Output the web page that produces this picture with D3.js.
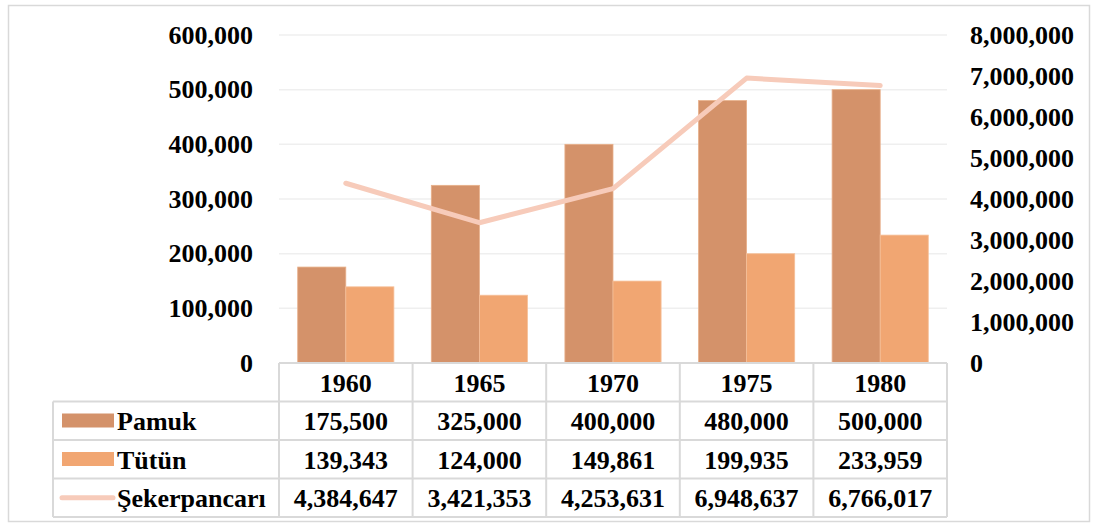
<!DOCTYPE html>
<html><head><meta charset="utf-8">
<script src="https://cdn.jsdelivr.net/npm/d3@7"></script>
<style>body{margin:0;background:#fff}svg{display:block}</style>
</head><body><svg id="c" width="1096" height="527"></svg>
<script>
const categories = ["1960","1965","1970","1975","1980"];
const pamuk = [175500,325000,400000,480000,500000];
const tutun = [139343,124000,149861,199935,233959];
const seker = [4384647,3421353,4253631,6948637,6766017];
const seriesNames = ["Pamuk","Tütün","Şekerpancarı"];
const leftTicks = [0,100000,200000,300000,400000,500000,600000];
const rightTicks = [0,1000000,2000000,3000000,4000000,5000000,6000000,7000000,8000000];
const colors = {pamuk:"#D4926A", tutun:"#F1A672", seker:"#F7CBBA"};

const svg = d3.select("#c");
const font = "'Liberation Serif','Times New Roman',serif";
const FS = 26;
const fmt = d3.format(",");
const L = 279, R = 947, T = 35, B = 363;
const tableLeft = 53, rowH = 38.5;

// outer border
svg.append("rect").attr("x",8.5).attr("y",5.5).attr("width",1081).attr("height",516)
  .attr("fill","#fff").attr("stroke","#D9D9D9").attr("stroke-width",1.5);

const x = d3.scaleBand().domain(categories).range([L,R]).paddingInner(0).paddingOuter(0);
const yL = d3.scaleLinear().domain([0,600000]).range([B,T]);
const yR = d3.scaleLinear().domain([0,8000000]).range([B,T]);

// gridlines
svg.append("g").selectAll("line").data(leftTicks.slice(1)).join("line")
  .attr("x1",L).attr("x2",R).attr("y1",d=>yL(d)).attr("y2",d=>yL(d))
  .attr("stroke","#EFEFEF").attr("stroke-width",1.5);

// axes labels
const axL = d3.axisLeft(yL).tickValues(leftTicks).tickFormat(fmt).tickSize(0).tickPadding(0);
const gL = svg.append("g").attr("transform",`translate(253,0)`).call(axL);
gL.select(".domain").remove();
gL.selectAll("text").attr("font-family",font).attr("font-weight","bold").attr("font-size",FS).attr("fill","#000");
const axR = d3.axisRight(yR).tickValues(rightTicks).tickFormat(fmt).tickSize(0).tickPadding(0);
const gR = svg.append("g").attr("transform",`translate(970,0)`).call(axR);
gR.select(".domain").remove();
gR.selectAll("text").attr("font-family",font).attr("font-weight","bold").attr("font-size",FS).attr("fill","#000");

// bars
const bw = x.bandwidth()*0.36;
const off = (x.bandwidth()-2*bw)/2;
svg.append("g").selectAll("rect").data(pamuk).join("rect")
  .attr("x",(d,i)=>x(categories[i])+off).attr("width",bw)
  .attr("y",d=>yL(d)).attr("height",d=>B-yL(d))
  .attr("fill",colors.pamuk).attr("stroke","#E8B08A").attr("stroke-width",0.8);
svg.append("g").selectAll("rect").data(tutun).join("rect")
  .attr("x",(d,i)=>x(categories[i])+off+bw).attr("width",bw)
  .attr("y",d=>yL(d)).attr("height",d=>B-yL(d))
  .attr("fill",colors.tutun).attr("stroke","#F6C09A").attr("stroke-width",0.8);

// line
const line = d3.line().x((d,i)=>x(categories[i])+x.bandwidth()/2).y(d=>yR(d));
svg.append("path").datum(seker).attr("d",line).attr("fill","none")
  .attr("stroke",colors.seker).attr("stroke-width",5).attr("stroke-linecap","round").attr("stroke-linejoin","round");

// data table
const tg = svg.append("g");
const bc = "#D9D9D9";
const rowsTop = [B, B+rowH, B+2*rowH, B+3*rowH, B+4*rowH];
tg.append("line").attr("x1",L).attr("x2",R).attr("y1",B).attr("y2",B).attr("stroke",bc).attr("stroke-width",2);
[1,2,3,4].forEach(k=>{
  tg.append("line").attr("x1",tableLeft).attr("x2",R).attr("y1",rowsTop[k]).attr("y2",rowsTop[k]).attr("stroke",bc).attr("stroke-width",2);
});
tg.append("line").attr("x1",tableLeft).attr("x2",tableLeft).attr("y1",rowsTop[1]).attr("y2",rowsTop[4]).attr("stroke",bc).attr("stroke-width",2);
categories.concat(["end"]).forEach((c,i)=>{
  const xx = i<categories.length ? x(c) : R;
  tg.append("line").attr("x1",xx).attr("x2",xx).attr("y1",B).attr("y2",rowsTop[4]).attr("stroke",bc).attr("stroke-width",2);
});
const txt = (sel)=>sel.attr("font-family",font).attr("font-weight","bold").attr("font-size",FS).attr("fill","#000").attr("dominant-baseline","central");
tg.selectAll("text.h").data(categories).join("text").attr("class","h")
  .attr("x",d=>x(d)+x.bandwidth()/2).attr("y",B+rowH/2+1).attr("text-anchor","middle").text(d=>d).call(txt);
[pamuk,tutun,seker].forEach((arr,r)=>{
  const cy = rowsTop[r+1]+rowH/2+1;
  tg.append("g").selectAll("text").data(arr).join("text")
    .attr("x",(d,i)=>x(categories[i])+x.bandwidth()/2).attr("y",cy).attr("text-anchor","middle")
    .text(d=>fmt(d)).call(txt);
  tg.append("text").attr("x",117).attr("y",cy).attr("text-anchor","start").text(seriesNames[r]).call(txt);
});
tg.append("rect").attr("x",62).attr("y",rowsTop[1]+12).attr("width",52).attr("height",14).attr("fill",colors.pamuk);
tg.append("rect").attr("x",62).attr("y",rowsTop[2]+12).attr("width",52).attr("height",14).attr("fill",colors.tutun);
tg.append("line").attr("x1",62).attr("x2",113).attr("y1",rowsTop[3]+rowH/2).attr("y2",rowsTop[3]+rowH/2)
  .attr("stroke",colors.seker).attr("stroke-width",5).attr("stroke-linecap","round");
</script></body></html>
